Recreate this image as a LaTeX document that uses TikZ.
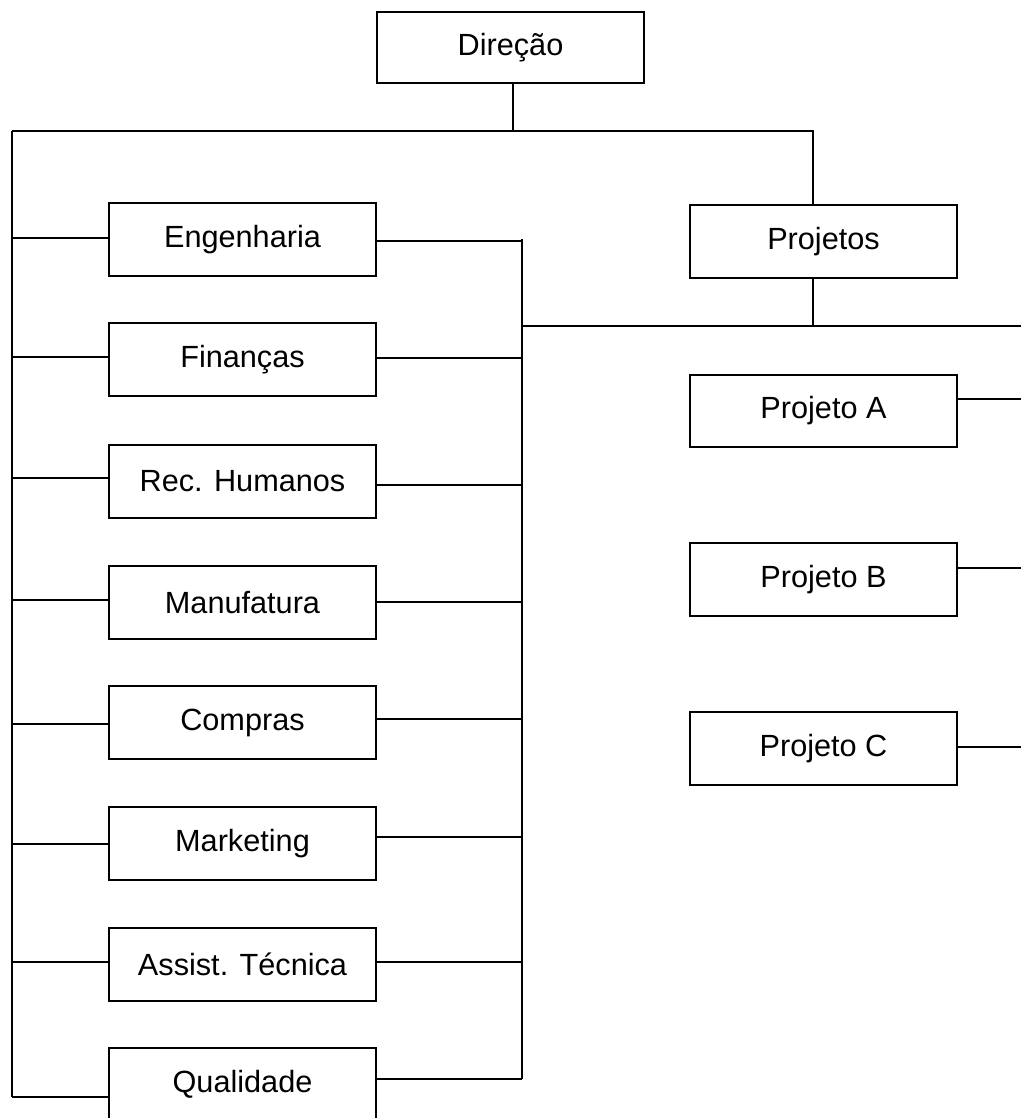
\documentclass[tikz,border=0pt]{standalone}
\usepackage{fontspec}
\setmainfont{Liberation Sans}
\begin{document}
\begin{tikzpicture}[x=0.75pt,y=-0.75pt,
  box/.style={draw, line width=1.6pt, minimum width=200.5pt, minimum height=54.5pt,
              inner sep=0pt, font=\fontsize{23}{27}\selectfont},
  conn/.style={line width=1.6pt}]
\useasboundingbox (0,0) rectangle (1021,1118);
\clip (0,0) rectangle (1021,1118);

% top
\node[box, minimum height=53pt] (dir) at (510.5,47.5) {Direção};
\node[box] (proj) at (823.5,241.5) {Projetos};
\coordinate (d1) at (513,131);
\coordinate (TL) at (12,131);
\coordinate (TR) at (813,131);
\coordinate (BL) at (12,1097);
\coordinate (RT) at (522,239);
\coordinate (RB) at (522,1079);
\coordinate (P1) at (522,326);
\coordinate (P2) at (1021,326);

\draw[conn] (dir.south -| d1) -- (d1);
\draw[conn] (TL) -- (TR) -- (proj.north -| TR);
\draw[conn] (TL) -- (BL);
\draw[conn] (RT) -- (RB);
\draw[conn] (P1) -- (P2);
\draw[conn] (proj.south -| TR) -- (TR |- P1);

% left boxes
\foreach \n/\t/\yc/\yl/\yr in {
  eng/Engenharia/239.5/238/241,
  fin/Finanças/359.5/357/358,
  rh/Rec. Humanos/481.5/478/485,
  man/Manufatura/602.5/600/602,
  com/Compras/722.5/724/719,
  mkt/Marketing/843.5/844/837,
  ast/Assist. Técnica/964.5/962/962,
  qual/Qualidade/1084.5/1097/1079}{
  \node[box] (\n) at (242.5,\yc) {\t};
  \draw[conn] (12,\yl) -- (\n.west |- 0,\yl);
  \draw[conn] (\n.east |- 0,\yr) -- (522,\yr);
}

% right projects
\foreach \n/\t/\yc/\yr in {
  pa/Projeto A/411/399,
  pb/Projeto B/579.5/568,
  pc/Projeto C/748.5/747}{
  \node[box] (\n) at (823.5,\yc) {\t};
  \draw[conn] (\n.east |- 0,\yr) -- (1021,\yr);
}
\end{tikzpicture}
\end{document}
